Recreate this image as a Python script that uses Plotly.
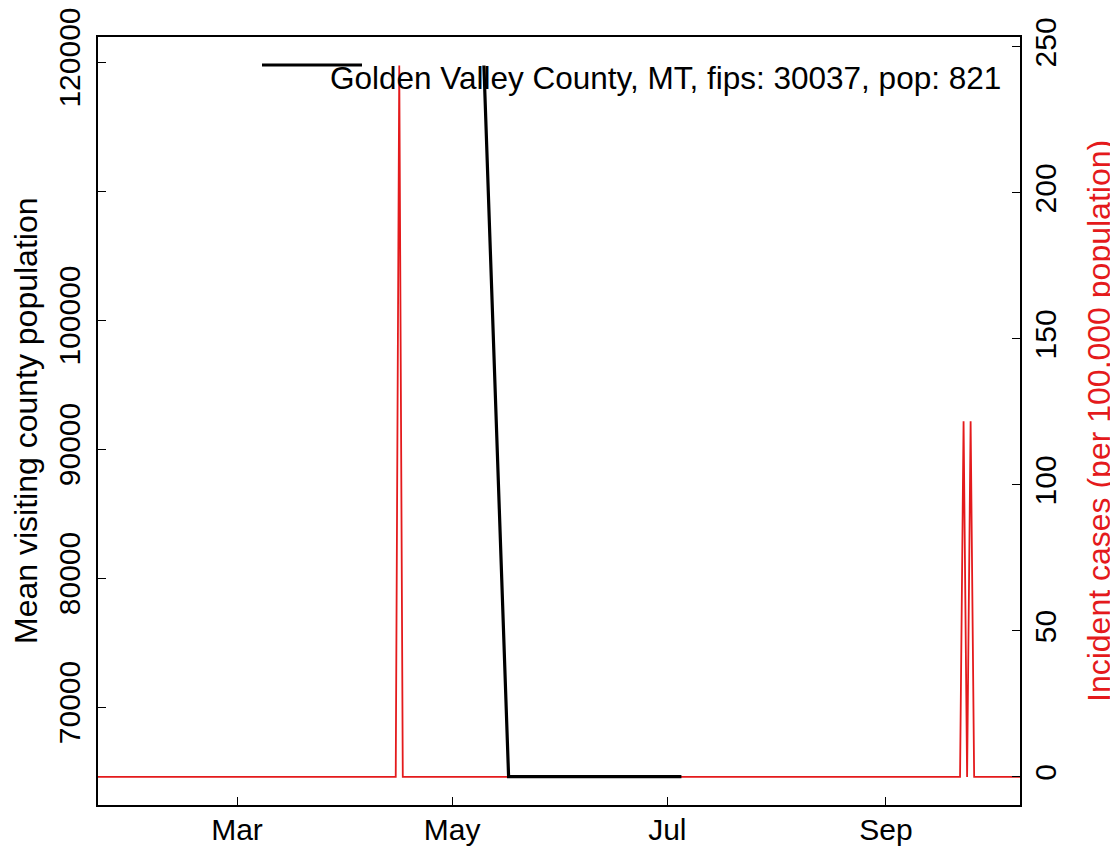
import plotly.graph_objects as go

# ---- data ----
pop_dates = ["2020-05-10", "2020-05-17", "2020-05-24", "2020-05-31", "2020-06-07",
             "2020-06-14", "2020-06-21", "2020-06-28", "2020-07-05"]
pop_values = [119730, 64610, 64610, 64600, 64610, 64620, 64610, 64600, 64610]

case_dates = ["2020-01-21", "2020-04-15", "2020-04-16", "2020-04-17", "2020-09-22",
              "2020-09-23", "2020-09-24", "2020-09-25", "2020-09-26", "2020-10-10"]
case_values = [0, 0, 243.6, 0, 0, 121.8, 0, 121.8, 0, 0]

month_ticks = ["2020-03-01", "2020-05-01", "2020-07-01", "2020-09-01"]
month_labels = ["Mar", "May", "Jul", "Sep"]

left_ticks = [70000, 80000, 90000, 100000, 110000, 120000]
left_labels = ["70000", "80000", "90000", "100000", "", "120000"]
right_ticks = [0, 50, 100, 150, 200, 250]
right_labels = ["0", "50", "100", "150", "200", "250"]

legend_text = "Golden Valley County, MT, fips: 30037, pop: 821"
left_title = "Mean visiting county population"
right_title = "Incident cases (per 100,000 population)"

RED = "#E41A1C"
FONT = "Liberation Sans, Arial, sans-serif"
FS = 30

# page body has an 8px margin: compensate so the plot lands where the reference has it
L, T = 90, 29
PW, PH = 922, 768

fig = go.Figure()
fig.add_trace(go.Scatter(x=case_dates, y=case_values, mode="lines",
                         line=dict(color=RED, width=1.8), yaxis="y",
                         showlegend=False, hoverinfo="skip"))
fig.add_trace(go.Scatter(x=pop_dates, y=pop_values, mode="lines",
                         line=dict(color="black", width=3.2), yaxis="y2",
                         showlegend=False, hoverinfo="skip"))

axis_common = dict(showgrid=False, zeroline=False, showline=True, linecolor="black",
                   linewidth=1.5, ticks="inside", ticklen=8, tickwidth=1.3,
                   tickcolor="black", automargin=False, ticklabeloverflow="allow",
                   tickfont=dict(family=FONT, size=FS, color="black"))

fig.update_layout(
    width=1110, height=842,
    margin=dict(l=L, r=1110 - L - PW, t=T, b=842 - T - PH, autoexpand=False),
    paper_bgcolor="white", plot_bgcolor="white",
    font=dict(family=FONT, size=FS, color="black"),
    xaxis=dict(range=["2020-01-21 14:00", "2020-10-09 00:00"],
               tickmode="array", tickvals=month_ticks, ticktext=month_labels,
               mirror=True, ticklabelstandoff=-3, **axis_common),
    yaxis=dict(side="right", range=[-9.6, 253.4], tickmode="array",
               tickvals=right_ticks, ticktext=right_labels, tickangle=-90,
               ticklabelstandoff=-2, **axis_common),
    yaxis2=dict(side="left", overlaying="y", range=[62403, 121938], tickmode="array",
                tickvals=left_ticks, ticktext=left_labels, tickangle=-90,
                ticklabelstandoff=4, **axis_common),
    showlegend=False,
)

# legend (drawn as in the R figure: line segment + text)
fig.add_shape(type="line", xref="paper", yref="paper",
              x0=(262 - 98) / PW, x1=(362 - 98) / PW,
              y0=(805 - 65) / PH, y1=(805 - 65) / PH,
              line=dict(color="black", width=3.2))
fig.add_annotation(text=legend_text, xref="paper", yref="paper",
                   x=(328 - 98) / PW, y=(805 - 77.5) / PH,
                   xanchor="left", yanchor="middle", showarrow=False,
                   font=dict(family=FONT, size=31.5, color="black"))

# axis titles
fig.add_annotation(text=left_title, xref="paper", yref="paper", x=0, y=0.5,
                   xshift=-72, xanchor="center", yanchor="middle", textangle=-90,
                   showarrow=False, font=dict(family=FONT, size=32, color="black"))
fig.add_annotation(text=right_title, xref="paper", yref="paper", x=1, y=0.5,
                   xshift=79, xanchor="center", yanchor="middle", textangle=-90,
                   showarrow=False, font=dict(family=FONT, size=32, color=RED))

fig.write_html("out.html")
